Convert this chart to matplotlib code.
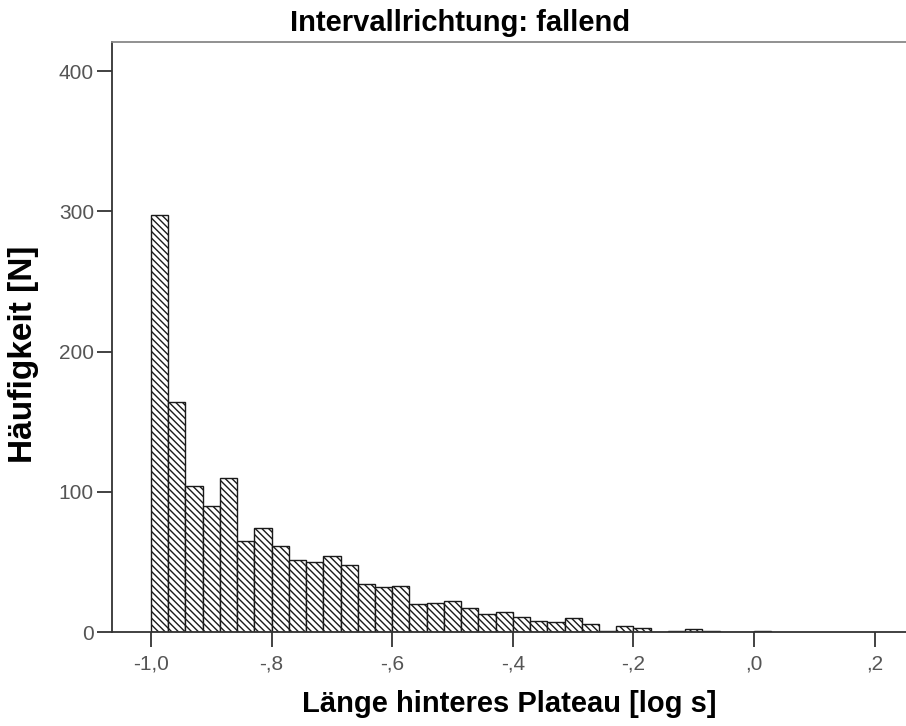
import numpy as np
import matplotlib
matplotlib.use("Agg")
import matplotlib.pyplot as plt

# Histogramm-Daten
bin_start = -1.0
bin_width = 0.2 / 7
counts = [297, 164, 104, 90, 110, 65, 74, 61, 51, 50,
          54, 48, 34, 32, 33, 20, 21, 22, 17, 13,
          14, 11, 8, 7, 10, 6, 1, 4, 3, 0,
          1, 2, 1, 0, 0, 1]

x_ticks = [-1.0, -0.8, -0.6, -0.4, -0.2, 0.0, 0.2]
x_ticklabels = ["-1,0", "-,8", "-,6", "-,4", "-,2", ",0", ",2"]
y_ticks = [0, 100, 200, 300, 400]

title = "Intervallrichtung: fallend"
xlabel = "Länge hinteres Plateau [log s]"
ylabel = "Häufigkeit [N]"

label_font = ["Liberation Sans", "DejaVu Sans"]
tick_font = ["Liberation Sans", "DejaVu Sans"]

plt.rcParams["hatch.linewidth"] = 1.0
plt.rcParams["hatch.color"] = "#222222"

fig = plt.figure(figsize=(9.06, 7.26), dpi=100)
ax = fig.add_axes([112 / 906, 1 - 632 / 726, 1 - 112 / 906, (632 - 42) / 726])

lefts = bin_start + bin_width * np.arange(len(counts))
ax.bar(lefts, counts, width=bin_width, align="edge", color="white",
       edgecolor="#1a1a1a", linewidth=1.0, hatch="\\" * 5)

ax.set_xlim(-1.0647, 0.252)
ax.set_ylim(0, 420.7)

ax.set_xticks(x_ticks)
ax.set_xticklabels(x_ticklabels)
ax.set_yticks(y_ticks)
ax.tick_params(axis="both", direction="out", length=11, width=1.3,
               color="#333333", labelcolor="#555555", labelsize=15, pad=2)
ax.tick_params(axis="x", pad=5)
for lab in ax.get_xticklabels() + ax.get_yticklabels():
    lab.set_family(tick_font)

ax.spines["right"].set_visible(False)
ax.spines["left"].set_color("#333333")
ax.spines["left"].set_linewidth(1.3)
ax.spines["bottom"].set_color("#333333")
ax.spines["bottom"].set_linewidth(1.3)
ax.spines["top"].set_color("#888888")
ax.spines["top"].set_linewidth(1.3)

ax.set_xlabel(xlabel, family=label_font, fontweight="bold", fontsize=21, labelpad=12)
ax.set_ylabel(ylabel, family=label_font, fontweight="bold", fontsize=24)
ax.yaxis.set_label_coords(-0.092, 0.47)
fig.text(0.508, 0.968, title, ha="center", va="center", family=label_font,
         fontweight="bold", fontsize=21)

fig.savefig("out.png", dpi=100)
